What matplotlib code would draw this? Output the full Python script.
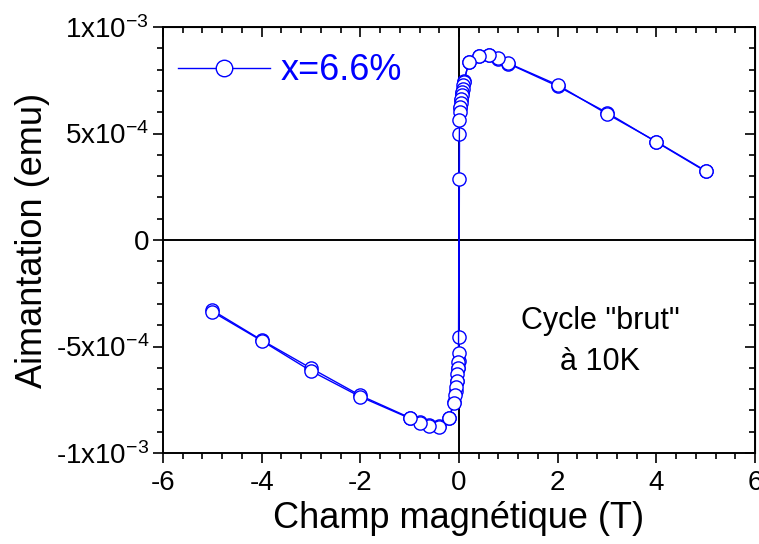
import numpy as np
import matplotlib.pyplot as plt
from matplotlib.ticker import MultipleLocator

plt.rcParams['font.family'] = ['Liberation Sans', 'DejaVu Sans']
plt.rcParams['mathtext.default'] = 'regular'
plt.rcParams['axes.unicode_minus'] = False

# field (T) and magnetisation (1e-4 emu), descending branch 5 T -> -5 T
h_down = [5, 4, 3, 2, 1, 0.8, 0.6, 0.4, 0.2, 0.1, 0.09, 0.08, 0.07, 0.06,
          0.05, 0.04, 0.03, 0.02, 0.01, 0, -0.01, -0.02, -0.03, -0.04, -0.05,
          -0.06, -0.08, -0.1, -0.2, -0.4, -0.6, -0.8, -1, -2, -3, -4, -5]
m_down = [3.25, 4.62, 5.92, 7.28, 8.30, 8.53, 8.69, 8.64, 8.37, 7.43, 7.30,
          7.10, 6.95, 6.80, 6.60, 6.45, 6.25, 6.00, 5.65, 2.86, -5.30, -5.75,
          -6.00, -6.30, -6.60, -6.90, -7.30, -7.67, -8.36, -8.76, -8.72,
          -8.58, -8.37, -7.36, -6.15, -4.73, -3.37]

# ascending branch -5 T -> 5 T
h_up = [-5, -4, -3, -2, -1, -0.8, -0.6, -0.4, -0.2, -0.1, -0.07, -0.05,
        -0.03, -0.01, 0, 0.01, 0.03, 0.05, 0.07, 0.1, 0.2, 0.4, 0.6, 0.8, 1,
        2, 3, 4, 5]
m_up = [-3.30, -4.70, -6.02, -7.30, -8.34, -8.55, -8.70, -8.74, -8.34, -7.60,
        -7.10, -6.60, -6.00, -5.70, -4.54, 5.00, 6.20, 6.55, 6.90, 7.45, 8.35,
        8.62, 8.67, 8.50, 8.28, 7.22, 5.98, 4.60, 3.22]

yticks = [-1e-3, -5e-4, 0, 5e-4, 1e-3]
ytick_labels = ['-1x10$^{-3}$', '-5x10$^{-4}$', '0', '5x10$^{-4}$', '1x10$^{-3}$']
xticks = [-6, -4, -2, 0, 2, 4, 6]

fig = plt.figure(figsize=(7.59, 5.44), dpi=100)
ax = fig.add_axes([163 / 759, 91 / 544, 592 / 759, 426 / 544])

ax.axhline(0, color='black', lw=1.4, zorder=1)
ax.axvline(0, color='black', lw=1.4, zorder=1)

style = dict(color='blue', lw=1.0, marker='o', ms=9.5, mfc='white',
             mec='blue', mew=1.0, zorder=3)
ax.plot(h_up, np.array(m_up) * 1e-4, **style)
ax.plot(h_down, np.array(m_down) * 1e-4, label='x=6.6%', **style)

ax.set_xlim(-6, 6)
ax.set_ylim(-1e-3, 1e-3)
ax.set_xticks(xticks)
ax.set_yticks(yticks)
ax.set_yticklabels(ytick_labels)
ax.xaxis.set_minor_locator(MultipleLocator(0.4))
ax.yaxis.set_minor_locator(MultipleLocator(1e-4))
ax.tick_params(which='both', direction='out', width=1.2, labelsize=20)
ax.tick_params(which='major', length=7)
ax.tick_params(which='minor', length=4)
ax.tick_params(axis='x', pad=5)
ax.tick_params(axis='y', pad=3)
for s in ax.spines.values():
    s.set_linewidth(1.4)

# top and right axes with inward ticks, no labels
top = ax.secondary_xaxis('top')
top.set_xticks(xticks)
top.xaxis.set_minor_locator(MultipleLocator(0.4))
top.tick_params(which='both', direction='in', width=1.2, labeltop=False)
top.tick_params(which='major', length=7)
top.tick_params(which='minor', length=4)
right = ax.secondary_yaxis('right')
right.set_yticks(yticks)
right.yaxis.set_minor_locator(MultipleLocator(1e-4))
right.tick_params(which='both', direction='in', width=1.2, labelright=False)
right.tick_params(which='major', length=7)
right.tick_params(which='minor', length=4)

ax.set_xlabel('Champ magnétique (T)', fontsize=26, labelpad=4)
ax.set_ylabel('Aimantation (emu)', fontsize=26, labelpad=4)

leg = ax.legend(loc='center left', bbox_to_anchor=(0.025, 0.897),
                frameon=False, fontsize=26, handlelength=2.55,
                handletextpad=0.3, borderpad=0, borderaxespad=0,
                markerscale=1.25, labelcolor='blue')

ax.text(0.738, 0.262, 'Cycle "brut"\nà 10K', transform=ax.transAxes,
        ha='center', va='center', fontsize=22, linespacing=1.45)

plt.savefig('out.png', dpi=100)
plt.close()
